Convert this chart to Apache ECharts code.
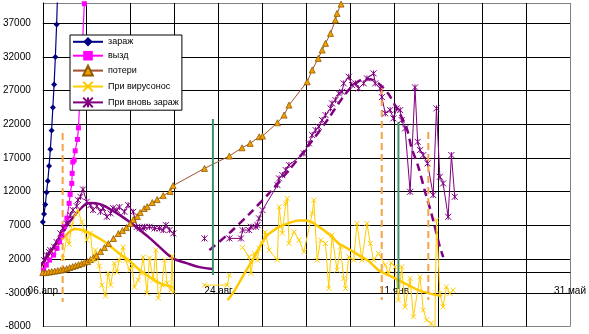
<!DOCTYPE html>
<html>
<head>
<meta charset="utf-8">
<script src="https://cdn.jsdelivr.net/npm/echarts@6/dist/echarts.min.js"></script>
<style>html,body{margin:0;padding:0;background:#fff}#c{width:589px;height:334px}</style>
</head>
<body>
<div id="c"></div>
<script>
// ---- tick labels ----
const xTickDays = [0, 140, 280, 420];
const xTickText = ['06.апр', '24.авг', '11.янв', '31.май'];
const yTickText = ['-8000', '-3000', '2000', '7000', '12000', '17000', '22000', '27000', '32000', '37000'];

// ---- series names ----
const names = ['зараж', 'вызд', 'потери', 'При вирусонос', 'При вновь зараж'];

// x values are days since 06.апр
// зараж
const infDays = [0, 1, 2, 3, 4, 5, 6, 7, 8, 9, 10, 11, 12];
const infVals = [7500, 8700, 10100, 11900, 13600, 15800, 18300, 21100, 24500, 27900, 32000, 36800, 42800];

// вызд
const recDays = [0.6, 2.8, 5.4, 8.6, 11.3, 13.3, 15.2, 17.3, 19.2, 21, 21.8, 23.1, 23.4, 23.9, 25, 25.8, 27.6, 28.4, 33.1];
const recVals = [370, 1110, 1850, 2590, 3590, 4570, 5560, 6790, 8080, 10270, 11600, 13230, 14720, 16400, 16690, 18070, 19760, 21480, 39900];

// потери
const lossDays = [0, 2.4, 4.8, 7.1, 9.5, 11.9, 14.3, 16.6, 19, 21.4, 23.8, 26.1, 28.5, 30.9, 33.3, 35.7, 38, 40.4, 42.8, 46, 49.1, 52.3, 56.3, 60.2, 63.4, 66.6, 69.7, 72.1, 75.3, 77.6, 80.8, 83.2, 87.2, 91.1, 95.9, 101.4, 103.8, 128.8, 148.6, 158.7, 165.2, 172.4, 175, 186.9, 192.2, 196.1, 210.6, 214.6, 219.4, 222.5, 225.2, 229.2, 233.1, 234.4, 237.6, 241];
const lossVals = [0, 0, 70, 150, 220, 300, 370, 450, 590, 740, 890, 1030, 1180, 1330, 1550, 1630, 1930, 2220, 2520, 3110, 3710, 4300, 5050, 5790, 6230, 6680, 7270, 7860, 8310, 8900, 9500, 9790, 10390, 10830, 11420, 12020, 12900, 15460, 17290, 18520, 19170, 20150, 20250, 22230, 23370, 24850, 28310, 30050, 31780, 33020, 34010, 35490, 37470, 38460, 39840, 42000];

// При вирусонос (null = gap)
const carDays = [16, 19, 21, 23, 26, 28, 31, 33, 35, 38, 40, 42, 45, 47, 50, 52, 54, 57, 59, 61, 64, 66, 69, 71, 73, 76, 78, 80, 83, 85, 88, 90, 92, 95, 97, 99, 102, 103, 104,
  116, 128.8, 146.9, 148.6, 153,
  159.1, 164.4, 165.8, 168.4, 171.0, 172.3, 175.0, 177.1, 180.3, 186.9, 188.2, 190.8, 193.5, 194.8, 196.1, 200.1, 204.1, 208.0, 214.6, 215.9, 218.6, 221.3, 225.2, 227.8, 230.4, 234.4, 237.1, 239.7, 241.1, 243.7, 247.6, 250.3, 254.2, 258.2, 260.9, 263.5, 267.4, 272.8, 275.4, 277.5, 280.7, 283.3, 285.9, 288.6, 292.6, 295.2, 300.5, 303.1, 305.7, 309.5, 312.2, 313.6, 316.3, 318.9, 321.5, 324.3, 326.9];
const carVals = [2150, 5120, 4230, 7050, 8680, 9270, 7490, 6150, 4820, 5860, 1850, 3340, 960, -1860, -3490, -80, -1860, 1410, 70, 1850, 3780, 1850, 370, 960, -2150, -1120, -80, 2300, -3050, 2150, -1120, 3340, -3790, -1860, 1850, -1560, -2600, 2450, -2900,
  null, -1860, -1860, -370, null,
  3736, 2341, -122, 2846, 1852, 3588, 4330, 6007, 3336, 1852, 9761, 5858, 10266, 11008, 4330, 6051, 4820, 3083, 8782, 10756, 1852, 4820, 4330, -2348, 5562, 368, 3825, -864, -2348, 2341, 1852, 7298, 1852, 7298, 4330, 1852, 2846, 1110, -122, 1451, 857, -4084, 857, -5079, -864, -6563, -627, -5568, -7052, -7497, -10020, 7788, -3090, -5079, -2111, -3090, -2600];

// При вновь зараж (null = gap)
const newDays = [1, 3, 5, 6, 9, 11, 14, 16, 19, 22, 24, 27, 28, 30, 32, 35, 38, 40, 43, 46, 48, 51, 54, 56, 59, 61, 65, 68, 72, 75, 77, 80, 81, 85, 89, 93, 96, 98, 101, 104,
  116, 128.8, 140,
  148.6, 157.9, 159.1, 164.4, 165.8, 169.7, 171, 172.3, 175, 186.9, 188.2, 190.8, 193.5, 196.1, 208, 212, 214.6, 217.3, 219.9, 222.5, 225.2, 229.2, 230.4, 233.1, 235.8, 238.4, 239.7, 243.7, 246.3, 249, 251.6, 255.6, 258.2, 263.5, 264.8, 268.8, 270.1, 272.8, 276.7, 279.3, 282, 284.7, 285.9, 288.6, 292.6, 296.5, 298.6, 300.5, 303.1, 306.5, 311, 313.6, 316.3, 318.9, 322.9, 325.5, 328.2];
const newVals = [1852, 2594, 3039, 3336, 3825, 4523, 5814, 6600, 7298, 8530, 9272, 9865, 10756, 11245, 12343, 10503, 10014, 9272, 9865, 9019, 9568, 8277, 8782, 9568, 9272, 9717, 9019, 10014, 9019, 6793, 6556, 6556, 6793, 6793, 6556, 6556, 6304, 7046, 6304, 5814,
  null, 5072, null,
  5072, 5072, 6304, 6304, 6793, 6793, 7046, 8040, 9272, 12982, 13976, 14466, 15208, 15950, 17686, 19170, 20402, 21144, 21633, 22628, 23370, 24364, 25106, 25596, 26590, 26827, 28073, 29053, 27822, 28073, 27331, 28073, 28815, 29557, 28073, 27331, 26041, 23622, 24112, 22880, 24364, 24112, 22628, 21396, 11987, 27480, 19407, 18176, 17434, 16202, 11498, 24364, 14214, 13234, 8277, 17434, 11245];

// trend curves
const carTr1Days = [-12.3, -6.0, 2.0, 9.9, 17.8, 25.8, 33.7, 41.6, 49.5, 57.5, 61.4, 69.3, 77.3, 85.2, 93.1, 103.4];
const carTr1Vals = [-2348, -523, 1852, 3929, 5413, 6452, 6155, 5413, 4523, 3336, 2742, 1703, 368, -671, -1562, -2155];
const carTr2Days = [147.2, 152.5, 159.1, 167, 172.3, 177.7, 184.3, 188.2, 196.1, 204.1, 209.4, 220, 227.8, 235.8, 243.7, 251.6, 259.5, 267.4, 275.4, 283.3, 291.2, 299.2, 307.1, 317.6];
const carTr2Vals = [-4084, -2749, -627, 1852, 3632, 5309, 6304, 6793, 7342, 7713, 7713, 6793, 5710, 4330, 3484, 2594, 1703, 368, -374, -1116, -1858, -2600, -3046, -3491];
const newTr1Days = [-2.8, 5.9, 13.9, 21.8, 29.7, 37.6, 45.6, 53.5, 61.4, 69.3, 77.3, 85.2, 93.1, 103.4, 114.5, 124.8, 135.1];
const newTr1Vals = [664, 3039, 5413, 7639, 9420, 10310, 10162, 9420, 8530, 7491, 6304, 5116, 3781, 2148, 1406, 812, 516];
const newTr2Days = [132.7, 148.6, 164.4, 180.3, 196.1, 212.0, 227.8, 239.7, 247.6, 255.6, 263.5, 269.8, 275.4, 281.8, 289.6, 293.6, 299.2, 304.8, 309.5, 316.3, 319];
const newTr2Vals = [3336, 5858, 8678, 11794, 15208, 18918, 22924, 26190, 27822, 28712, 28564, 27674, 26487, 24408, 21589, 18621, 15653, 11794, 8826, 3825, 2297];

// vertical marker lines [day, top, bottom]
const orangeMarks = [[15.8, 20700, -4380], [270, 27380, -4080], [307.1, 20850, -4080]];
const greenMarks = [[135.5, 22780, -370], [283.3, 22330, -2450]];

function pairs(d, v) { return d.map((x, i) => [x, v[i] === null ? null : v[i]]); }

const X_PATH = 'path://M0,0L10,10M10,0L0,10';
const AST_PATH = 'path://M0,0L10,10M10,0L0,10M5,0L5,10';
const FONT = "'Liberation Sans', Arial, sans-serif";

// layout of the plot (pixels)
const G = { left: 42.5, top: 3, width: 529.5, height: 323.5 };
const Y_MIN = -8000, Y_MAX = 40000;
const zeroOffset = -(G.height * (0 - Y_MIN) / (Y_MAX - Y_MIN)); // move x axis line to value 0

const series = [];
series.push({ name: 'trCar1', type: 'line', data: pairs(carTr1Days, carTr1Vals), smooth: 0.4, showSymbol: false, clip: false,
  lineStyle: { width: 2.5, color: { type: 'linear', x: 0, y: 0, x2: 1, y2: 0,
    colorStops: [{ offset: 0, color: '#F7A21B' }, { offset: 0.25, color: '#F8A81A' }, { offset: 0.36, color: '#FFCC00' }, { offset: 1, color: '#FFCC00' }] } } });
series.push({ name: 'trCar2', type: 'line', data: pairs(carTr2Days, carTr2Vals), smooth: 0.4, showSymbol: false,
  lineStyle: { width: 2.5, color: '#FFC800' } });
series.push({ name: 'trNew1', type: 'line', data: pairs(newTr1Days, newTr1Vals), smooth: 0.4, showSymbol: false, clip: false,
  lineStyle: { width: 2.5, color: '#800080' } });
series.push({ name: 'trNew2', type: 'line', data: pairs(newTr2Days, newTr2Vals), smooth: 0.3, showSymbol: false,
  lineStyle: { width: 2.5, color: '#800080', type: [8, 5] } });

series.push({ name: names[0], type: 'line', data: pairs(infDays, infVals), symbol: 'diamond', symbolSize: 6,
  itemStyle: { color: '#000080' }, lineStyle: { width: 1.2, color: '#000080' } });
series.push({ name: names[1], type: 'line', data: pairs(recDays, recVals), symbol: 'rect', symbolSize: 5,
  itemStyle: { color: '#FF00FF' }, lineStyle: { width: 1.2, color: '#FF00FF' } });
series.push({ name: names[2], type: 'line', data: pairs(lossDays, lossVals), symbol: 'triangle', symbolSize: 6,
  itemStyle: { color: '#F5A000', borderColor: '#8B5A00', borderWidth: 0.8 }, lineStyle: { width: 1, color: '#A0522D' } });
series.push({ name: names[3], type: 'line', data: pairs(carDays, carVals), symbol: X_PATH, symbolSize: 5,
  itemStyle: { color: '#FFCC00', borderColor: '#FFCC00', borderWidth: 1 }, lineStyle: { width: 1, color: '#FFCC00' } });
series.push({ name: names[4], type: 'line', data: pairs(newDays, newVals), symbol: AST_PATH, symbolSize: 6,
  itemStyle: { color: '#800080', borderColor: '#800080', borderWidth: 1 }, lineStyle: { width: 1, color: '#800080' } });

orangeMarks.forEach((m, i) => series.push({ name: 'om' + i, type: 'line', data: [[m[0], m[1]], [m[0], m[2]]], showSymbol: false,
  lineStyle: { width: 2, color: '#F4A340', type: [7, 4] } }));
greenMarks.forEach((m, i) => series.push({ name: 'gm' + i, type: 'line', data: [[m[0], m[1]], [m[0], m[2]]], showSymbol: false,
  lineStyle: { width: 2, color: '#3E8F6A' } }));

const xSplitColors = []; for (let i = 0; i < 12; i++) xSplitColors.push('#000'); xSplitColors.push('#808080');
const ySplitColors = ['#808080']; for (let i = 0; i < 9; i++) ySplitColors.push('#000'); ySplitColors.push('#808080');

const chart = echarts.init(document.getElementById('c'), null, { renderer: 'canvas' });
chart.setOption({
  animation: false,
  backgroundColor: '#fff',
  textStyle: { fontFamily: FONT },
  grid: { left: G.left, top: G.top, width: G.width, height: G.height, containLabel: false },
  legend: {
    data: names, orient: 'vertical', left: 70, top: 35,
    backgroundColor: '#fff', borderColor: '#000', borderWidth: 1, borderRadius: 0,
    padding: [2, 3, 2, 2], itemWidth: 30, itemHeight: 12, itemGap: 4.3,
    textStyle: { fontFamily: FONT, fontSize: 9, color: '#000' }
  },
  xAxis: {
    type: 'value', min: 0, max: 420, interval: 35, position: 'bottom', offset: zeroOffset,
    axisLine: { show: true, onZero: false, lineStyle: { color: '#000', width: 1 } },
    axisTick: { show: false },
    axisLabel: { margin: 14, fontFamily: FONT, fontSize: 10, color: '#000', showMinLabel: true, showMaxLabel: true, hideOverlap: false,
      formatter: v => { const i = xTickDays.indexOf(v); return i >= 0 ? xTickText[i] : ''; } },
    splitLine: { show: true, lineStyle: { color: xSplitColors, width: 1 } }
  },
  yAxis: [
    { type: 'value', min: Y_MIN, max: Y_MAX, show: false, splitLine: { show: false } },
    { type: 'value', min: 0, max: Y_MAX - Y_MIN, interval: 5000, position: 'left',
      axisLine: { show: true, onZero: false, lineStyle: { color: '#000', width: 1 } },
      axisTick: { show: false },
      axisLabel: { margin: 12, fontFamily: FONT, fontSize: 10, color: '#000', showMaxLabel: true,
        formatter: v => { const s = yTickText[Math.round(v / 5000)]; return (v % 5000 === 0 && s) ? s : ''; } },
      splitLine: { show: true, lineStyle: { color: ySplitColors, width: 1 } } }
  ],
  series: series
});
</script>
</body>
</html>
